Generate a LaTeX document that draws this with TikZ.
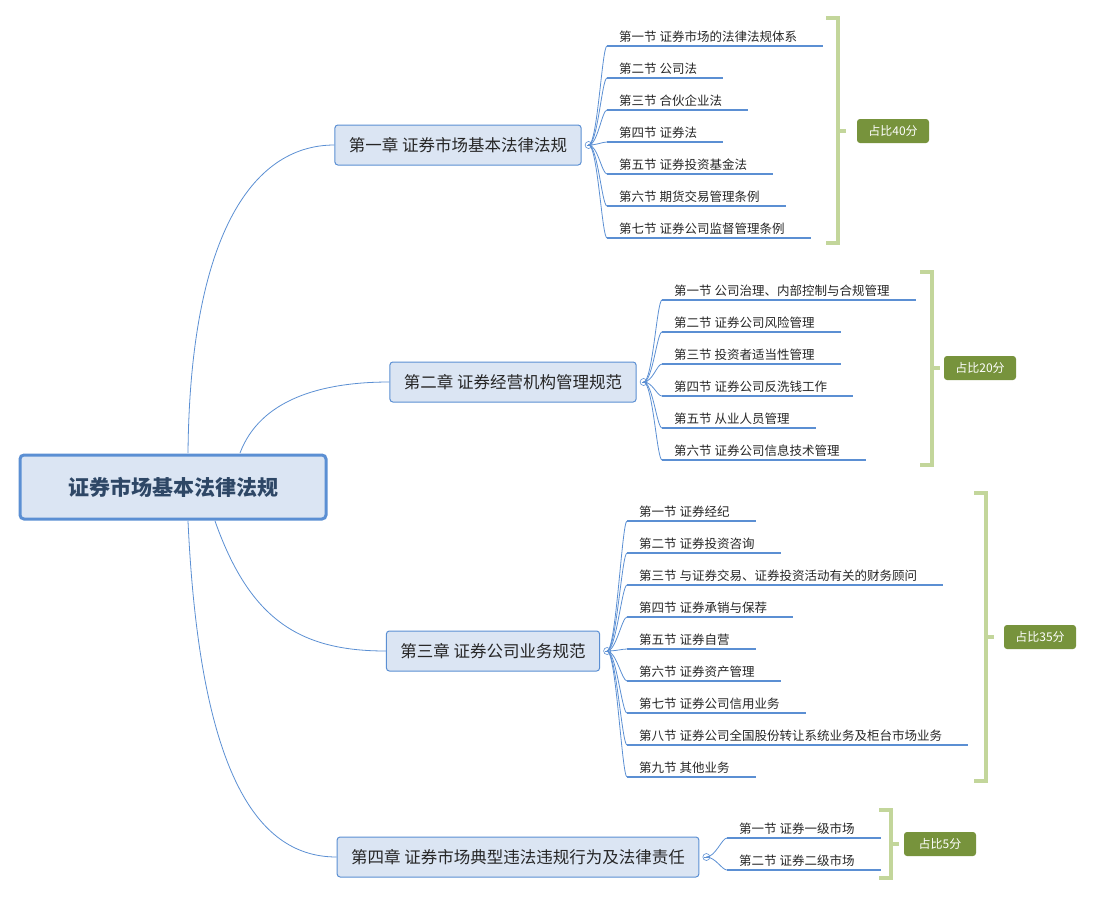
\documentclass[tikz,border=0pt]{standalone}
\usepackage{fontspec}
\setmainfont{Noto Sans CJK SC}
\usetikzlibrary{positioning}
\definecolor{linkblue}{HTML}{5B8FD3}
\definecolor{boxfill}{HTML}{DBE5F3}
\definecolor{rootText}{HTML}{2E4766}
\definecolor{brace}{HTML}{C3D69B}
\definecolor{olive}{HTML}{77933C}
\tikzset{
  root/.style={draw=linkblue,line width=3pt,fill=boxfill,rounded corners=4pt,
    minimum width=306pt,minimum height=64pt,font=\fontsize{21}{24}\selectfont\bfseries,text=rootText},
  chapter/.style={draw=linkblue,line width=1pt,fill=boxfill,rounded corners=3pt,
    minimum height=40pt,inner xsep=14pt,font=\fontsize{16.5}{19}\selectfont,text=black!85},
  sec/.style={anchor=south west,inner xsep=12pt,inner ysep=3pt,font=\fontsize{12.5}{15}\selectfont,text=black!85},
  link/.style={draw=linkblue,line width=0.8pt},
  under/.style={draw=linkblue,line width=1.5pt},
  share/.style={fill=olive,rounded corners=3pt,text=white,font=\fontsize{12}{14}\selectfont\itshape,
    minimum width=72pt,minimum height=24pt},
  bracket/.style={draw=brace,line width=3.5pt}
}
% section list of one chapter, hung from marker #1
\newcommand\seclist[4]{%
  \foreach \t [count=\i] in {#4}{
    \pgfmathsetmacro\yy{#3+32*(\i-1)}
    \node[sec] (#1s\i) at (#2,\yy) {\t};
    \draw[under] (#1s\i.south west) -- ([xshift=14pt]#1s\i.south east);
    \draw[link] (#1m) .. controls ([xshift=9pt]#1m) and (#2-5,\yy) .. (#2,\yy);
  }}
\begin{document}
\begin{tikzpicture}[x=1pt,y=-1pt]
\useasboundingbox (0,0) rectangle (1095,898);
% root and chapters
\node[root] (root) at (173,487) {证券市场基本法律法规};
\node[chapter] (c1) at (458,145) {第一章\ 证券市场基本法律法规};
\node[chapter] (c2) at (513,382) {第二章\ 证券经营机构管理规范};
\node[chapter] (c3) at (493,651) {第三章\ 证券公司业务规范};
\node[chapter] (c4) at (518,857) {第四章\ 证券市场典型违法违规行为及法律责任};
\draw[link] (188,453) .. controls (190,240) and (250,145) .. (c1.west);
\draw[link] (240,453) .. controls (260,400) and (320,382) .. (c2.west);
\draw[link] (215,521) .. controls (250,620) and (300,651) .. (c3.west);
\draw[link] (188,521) .. controls (200,780) and (260,857) .. (c4.west);
% collapse markers
\foreach \c in {c1,c2,c3,c4}{
  \coordinate (\c m) at ([xshift=7pt]\c.east);
  \draw[linkblue,fill=white,line width=0.6pt] (\c m) circle (3.5);
  \draw[linkblue,line width=0.6pt] ([xshift=-2pt]\c m) -- ([xshift=2pt]\c m);
}
% sections
\seclist{c1}{607}{46}{第一节\ 证券市场的法律法规体系,第二节\ 公司法,第三节\ 合伙企业法,第四节\ 证券法,第五节\ 证券投资基金法,第六节\ 期货交易管理条例,第七节\ 证券公司监督管理条例}
\seclist{c2}{662}{300}{第一节\ 公司治理、内部控制与合规管理,第二节\ 证券公司风险管理,第三节\ 投资者适当性管理,第四节\ 证券公司反洗钱工作,第五节\ 从业人员管理,第六节\ 证券公司信息技术管理}
\seclist{c3}{627}{521}{第一节\ 证券经纪,第二节\ 证券投资咨询,第三节\ 与证券交易、证券投资活动有关的财务顾问,第四节\ 证券承销与保荐,第五节\ 证券自营,第六节\ 证券资产管理,第七节\ 证券公司信用业务,第八节\ 证券公司全国股份转让系统业务及柜台市场业务,第九节\ 其他业务}
\seclist{c4}{727}{838}{第一节\ 证券一级市场,第二节\ 证券二级市场}
% brackets and shares
\draw[bracket] (826,18) -- (838,18) -- (838,243) -- (826,243);
\draw[bracket] (838,131) -- (846,131);
\node[share] (p1) at (893,131) {占比40分};
\draw[bracket] (920,272) -- (932,272) -- (932,465) -- (920,465);
\draw[bracket] (932,368) -- (940,368);
\node[share] (p2) at (980,368) {占比20分};
\draw[bracket] (974,493) -- (986,493) -- (986,781) -- (974,781);
\draw[bracket] (986,637) -- (994,637);
\node[share] (p3) at (1040,637) {占比35分};
\draw[bracket] (879,810) -- (891,810) -- (891,878) -- (879,878);
\draw[bracket] (891,844) -- (899,844);
\node[share] (p4) at (940,844) {占比5分};
\end{tikzpicture}
\end{document}
